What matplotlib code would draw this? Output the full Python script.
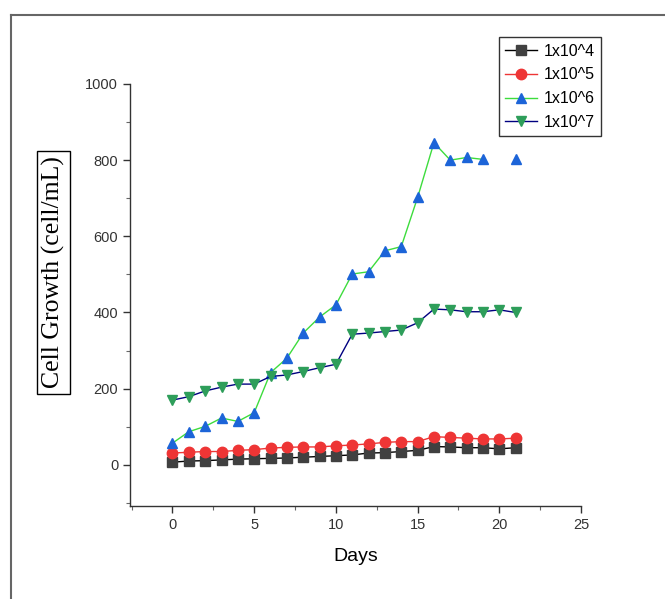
import numpy as np
import matplotlib
matplotlib.use("Agg")
import matplotlib.pyplot as plt
from matplotlib.lines import Line2D
from matplotlib.ticker import MultipleLocator

plt.rcParams["font.family"] = ["Liberation Sans", "DejaVu Sans"]

# ── data ──────────────────────────────────────────────────
days = list(range(22))
labels = ["1x10^4", "1x10^5", "1x10^6", "1x10^7"]

s_1e4 = [7, 10, 11, 13, 15, 16, 17, 18, 20, 22, 24, 26, 31, 32, 35, 38,
         48, 47, 45, 45, 42, 45]
s_1e5 = [31, 33, 35, 35, 38, 40, 44, 46, 47, 47, 50, 52, 55, 59, 61, 61,
         74, 72, 70, 68, 68, 70]
s_1e6 = [57, 87, 101, 123, 114, 137, 242, 280, 346, 388, 420, 501, 507,
         562, 573, 702, 846, 800, 807, 802, np.nan, 802]
s_1e7 = [170, 179, 194, 204, 212, 212, 232, 236, 245, 255, 264, 343, 346,
         350, 354, 373, 409, 407, 402, 402, 407, 400]

series = [s_1e4, s_1e5, s_1e6, s_1e7]
markers = ["s", "o", "^", "v"]
mcolors = ["#404040", "#ee3535", "#1c64d8", "#2e9e5a"]
lcolors = ["#000000", "#ee3535", "#3ddc3d", "#000080"]

# ── plot ─────────────────────────────────────────────────
fig = plt.figure(figsize=(6.65, 5.99), dpi=100)
ax = fig.add_axes([0.1955, 0.1553, 0.6782, 0.7045])

for y, m, mc, lc, lab in zip(series, markers, mcolors, lcolors, labels):
    ax.plot(days, y, color=lc, lw=1.0, marker=m, markersize=7.5,
            markerfacecolor=mc, markeredgecolor=mc, label=lab)

ax.set_xlim(-2.6, 25)
ax.set_ylim(-108, 1000)
ax.xaxis.set_major_locator(MultipleLocator(5))
ax.xaxis.set_minor_locator(MultipleLocator(2.5))
ax.yaxis.set_major_locator(MultipleLocator(200))
ax.yaxis.set_minor_locator(MultipleLocator(100))
ax.spines["top"].set_visible(False)
ax.spines["right"].set_visible(False)
for sp in ("left", "bottom"):
    ax.spines[sp].set_color("#333333")
    ax.spines[sp].set_linewidth(1.0)
ax.tick_params(which="major", direction="out", length=5, width=1,
               labelsize=10.5, colors="#333333")
ax.tick_params(which="minor", direction="out", length=3, width=0.8,
               colors="#666666")

ax.set_xlabel("Days", fontsize=14, labelpad=12)

leg = ax.legend(loc="upper left", bbox_to_anchor=(0.818, 1.111),
                frameon=True, fancybox=False, fontsize=11.5,
                handlelength=2.0, handletextpad=0.4, borderpad=0.4,
                labelspacing=0.55, borderaxespad=0)
leg.get_frame().set_edgecolor("black")
leg.get_frame().set_linewidth(1.0)

fig.text(0.0805, 0.545, "Cell Growth (cell/mL)", rotation=90,
         ha="center", va="center", fontsize=18.5,
         family=["Liberation Serif", "DejaVu Serif"],
         bbox=dict(boxstyle="square,pad=0.2", fc="white", ec="black", lw=1))

# outer frame (only top and left edges show in the reference)
fig.add_artist(Line2D([11 / 665, 1.0], [1 - 15 / 599, 1 - 15 / 599],
                      transform=fig.transFigure, color="#666666", lw=1.5))
fig.add_artist(Line2D([11 / 665, 11 / 665], [1 - 15 / 599, 0.0],
                      transform=fig.transFigure, color="#666666", lw=1.5))

plt.savefig("out.png", dpi=100)
